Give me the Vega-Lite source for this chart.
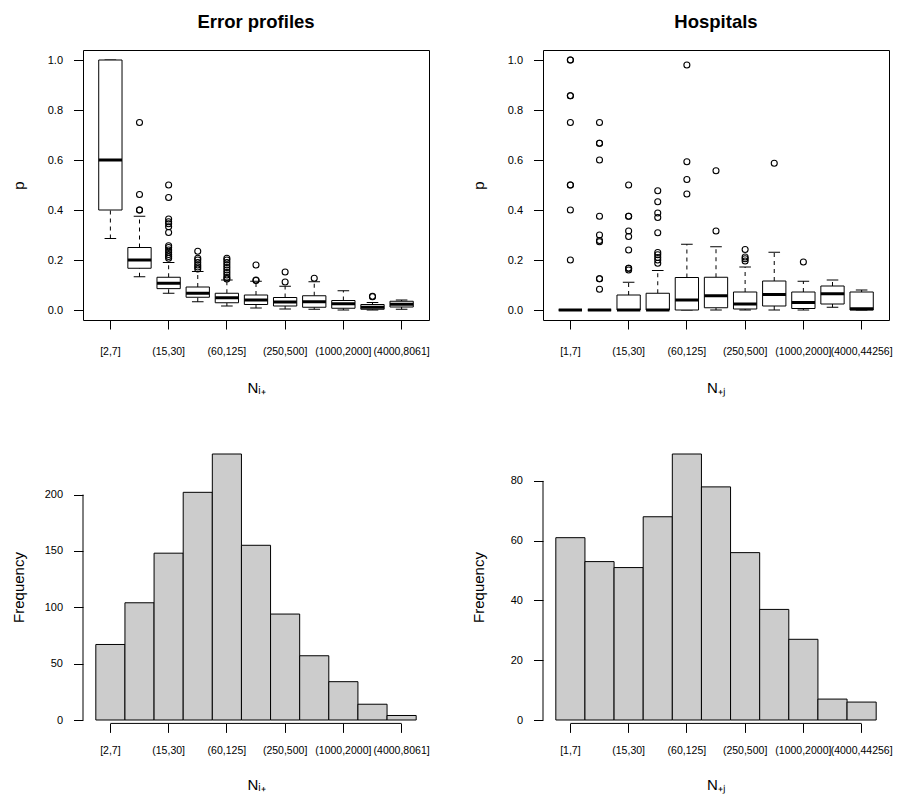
{
  "$schema": "https://vega.github.io/schema/vega-lite/v6.json",
  "background": "white",
  "padding": {"left": 10, "top": 12, "right": 5, "bottom": 3},
  "columns": 2,
  "bounds": "flush",
  "spacing": {"row": 134, "column": 114},
  "config": {
    "font": "Liberation Sans",
    "view": {"stroke": null},
    "axis": {
      "grid": false,
      "labelFont": "Liberation Sans",
      "labelFontSize": 11,
      "labelColor": "#000000",
      "tickColor": "#000000",
      "tickWidth": 1,
      "domainColor": "#000000",
      "titleFont": "Liberation Sans",
      "titleFontSize": 15,
      "titleFontWeight": "normal",
      "titleColor": "#000000",
      "labelOverlap": false,
      "labelFlush": false,
      "labelBound": false
    },
    "axisX": {"labelFontSize": 10.5},
    "title": {"font": "Liberation Sans", "fontSize": 18.5, "fontWeight": "bold", "color": "#000000"}
  },
  "datasets": {
    "epBox": [
      {"cat": "[2,7]", "lo": 0.286, "q1": 0.4, "med": 0.6, "q3": 1.0, "hi": 1.0},
      {"cat": "(7,15]", "lo": 0.133, "q1": 0.167, "med": 0.2, "q3": 0.25, "hi": 0.375},
      {"cat": "(15,30]", "lo": 0.067, "q1": 0.0855, "med": 0.107, "q3": 0.131, "hi": 0.19},
      {"cat": "(30,60]", "lo": 0.033, "q1": 0.051, "med": 0.067, "q3": 0.092, "hi": 0.154},
      {"cat": "(60,125]", "lo": 0.016, "q1": 0.029, "med": 0.049, "q3": 0.067, "hi": 0.12},
      {"cat": "(125,250]", "lo": 0.008, "q1": 0.022, "med": 0.04, "q3": 0.06, "hi": 0.115},
      {"cat": "(250,500]", "lo": 0.004, "q1": 0.016, "med": 0.032, "q3": 0.05, "hi": 0.095},
      {"cat": "(500,1000]", "lo": 0.003, "q1": 0.011, "med": 0.033, "q3": 0.057, "hi": 0.113},
      {"cat": "(1000,2000]", "lo": 0.0, "q1": 0.007, "med": 0.025, "q3": 0.038, "hi": 0.077},
      {"cat": "(2000,4000]", "lo": 0.0, "q1": 0.003, "med": 0.011, "q3": 0.022, "hi": 0.03},
      {"cat": "(4000,8061]", "lo": 0.003, "q1": 0.012, "med": 0.023, "q3": 0.035, "hi": 0.04}
    ],
    "epOut": [
      {"cat": "(7,15]", "p": 0.75}, {"cat": "(7,15]", "p": 0.462}, {"cat": "(7,15]", "p": 0.4}, {"cat": "(7,15]", "p": 0.4},
      {"cat": "(15,30]", "p": 0.5}, {"cat": "(15,30]", "p": 0.45}, {"cat": "(15,30]", "p": 0.364}, {"cat": "(15,30]", "p": 0.353},
      {"cat": "(15,30]", "p": 0.345}, {"cat": "(15,30]", "p": 0.333}, {"cat": "(15,30]", "p": 0.31}, {"cat": "(15,30]", "p": 0.257},
      {"cat": "(15,30]", "p": 0.25}, {"cat": "(15,30]", "p": 0.24}, {"cat": "(15,30]", "p": 0.231}, {"cat": "(15,30]", "p": 0.222},
      {"cat": "(15,30]", "p": 0.214}, {"cat": "(15,30]", "p": 0.207},
      {"cat": "(30,60]", "p": 0.235}, {"cat": "(30,60]", "p": 0.207}, {"cat": "(30,60]", "p": 0.2}, {"cat": "(30,60]", "p": 0.19},
      {"cat": "(30,60]", "p": 0.18}, {"cat": "(30,60]", "p": 0.172}, {"cat": "(30,60]", "p": 0.164},
      {"cat": "(60,125]", "p": 0.207}, {"cat": "(60,125]", "p": 0.2}, {"cat": "(60,125]", "p": 0.19}, {"cat": "(60,125]", "p": 0.18},
      {"cat": "(60,125]", "p": 0.17}, {"cat": "(60,125]", "p": 0.16}, {"cat": "(60,125]", "p": 0.15}, {"cat": "(60,125]", "p": 0.14},
      {"cat": "(60,125]", "p": 0.13}, {"cat": "(60,125]", "p": 0.124},
      {"cat": "(125,250]", "p": 0.18}, {"cat": "(125,250]", "p": 0.12}, {"cat": "(125,250]", "p": 0.118},
      {"cat": "(250,500]", "p": 0.152}, {"cat": "(250,500]", "p": 0.112},
      {"cat": "(500,1000]", "p": 0.127},
      {"cat": "(2000,4000]", "p": 0.055}, {"cat": "(2000,4000]", "p": 0.053}
    ],
    "hoBox": [
      {"cat": "[1,7]", "lo": 0, "q1": 0, "med": 0, "q3": 0, "hi": 0},
      {"cat": "(7,15]", "lo": 0, "q1": 0, "med": 0, "q3": 0, "hi": 0},
      {"cat": "(15,30]", "lo": 0, "q1": 0, "med": 0, "q3": 0.06, "hi": 0.111},
      {"cat": "(30,60]", "lo": 0, "q1": 0, "med": 0, "q3": 0.067, "hi": 0.158},
      {"cat": "(60,125]", "lo": 0, "q1": 0, "med": 0.04, "q3": 0.13, "hi": 0.263},
      {"cat": "(125,250]", "lo": 0, "q1": 0.009, "med": 0.057, "q3": 0.131, "hi": 0.253},
      {"cat": "(250,500]", "lo": 0, "q1": 0.004, "med": 0.024, "q3": 0.072, "hi": 0.172},
      {"cat": "(500,1000]", "lo": 0, "q1": 0.016, "med": 0.062, "q3": 0.116, "hi": 0.231},
      {"cat": "(1000,2000]", "lo": 0, "q1": 0.006, "med": 0.03, "q3": 0.072, "hi": 0.115},
      {"cat": "(2000,4000]", "lo": 0.011, "q1": 0.024, "med": 0.065, "q3": 0.096, "hi": 0.12},
      {"cat": "(4000,44256]", "lo": 0, "q1": 0, "med": 0.005, "q3": 0.072, "hi": 0.08}
    ],
    "hoOut": [
      {"cat": "[1,7]", "p": 1.0}, {"cat": "[1,7]", "p": 1.0}, {"cat": "[1,7]", "p": 0.857}, {"cat": "[1,7]", "p": 0.857},
      {"cat": "[1,7]", "p": 0.75}, {"cat": "[1,7]", "p": 0.5}, {"cat": "[1,7]", "p": 0.5}, {"cat": "[1,7]", "p": 0.4}, {"cat": "[1,7]", "p": 0.2},
      {"cat": "(7,15]", "p": 0.75}, {"cat": "(7,15]", "p": 0.667}, {"cat": "(7,15]", "p": 0.667}, {"cat": "(7,15]", "p": 0.6},
      {"cat": "(7,15]", "p": 0.375}, {"cat": "(7,15]", "p": 0.3}, {"cat": "(7,15]", "p": 0.278}, {"cat": "(7,15]", "p": 0.273},
      {"cat": "(7,15]", "p": 0.125}, {"cat": "(7,15]", "p": 0.125}, {"cat": "(7,15]", "p": 0.083},
      {"cat": "(15,30]", "p": 0.5}, {"cat": "(15,30]", "p": 0.375}, {"cat": "(15,30]", "p": 0.375}, {"cat": "(15,30]", "p": 0.316},
      {"cat": "(15,30]", "p": 0.294}, {"cat": "(15,30]", "p": 0.24}, {"cat": "(15,30]", "p": 0.167}, {"cat": "(15,30]", "p": 0.167},
      {"cat": "(15,30]", "p": 0.16},
      {"cat": "(30,60]", "p": 0.477}, {"cat": "(30,60]", "p": 0.433}, {"cat": "(30,60]", "p": 0.388}, {"cat": "(30,60]", "p": 0.37},
      {"cat": "(30,60]", "p": 0.309}, {"cat": "(30,60]", "p": 0.23}, {"cat": "(30,60]", "p": 0.221}, {"cat": "(30,60]", "p": 0.21},
      {"cat": "(30,60]", "p": 0.2}, {"cat": "(30,60]", "p": 0.187},
      {"cat": "(60,125]", "p": 0.98}, {"cat": "(60,125]", "p": 0.593}, {"cat": "(60,125]", "p": 0.522}, {"cat": "(60,125]", "p": 0.464},
      {"cat": "(125,250]", "p": 0.557}, {"cat": "(125,250]", "p": 0.316},
      {"cat": "(250,500]", "p": 0.242}, {"cat": "(250,500]", "p": 0.212}, {"cat": "(250,500]", "p": 0.205}, {"cat": "(250,500]", "p": 0.196},
      {"cat": "(500,1000]", "p": 0.587},
      {"cat": "(1000,2000]", "p": 0.192}
    ],
    "epHist": [
      {"cat": "[2,7]", "freq": 67}, {"cat": "(7,15]", "freq": 104}, {"cat": "(15,30]", "freq": 148},
      {"cat": "(30,60]", "freq": 202}, {"cat": "(60,125]", "freq": 236}, {"cat": "(125,250]", "freq": 155},
      {"cat": "(250,500]", "freq": 94}, {"cat": "(500,1000]", "freq": 57}, {"cat": "(1000,2000]", "freq": 34},
      {"cat": "(2000,4000]", "freq": 14}, {"cat": "(4000,8061]", "freq": 4}
    ],
    "hoHist": [
      {"cat": "[1,7]", "freq": 61}, {"cat": "(7,15]", "freq": 53}, {"cat": "(15,30]", "freq": 51},
      {"cat": "(30,60]", "freq": 68}, {"cat": "(60,125]", "freq": 89}, {"cat": "(125,250]", "freq": 78},
      {"cat": "(250,500]", "freq": 56}, {"cat": "(500,1000]", "freq": 37}, {"cat": "(1000,2000]", "freq": 27},
      {"cat": "(2000,4000]", "freq": 7}, {"cat": "(4000,44256]", "freq": 6}
    ],
    "one": [{"k": 1}]
  },
  "concat": [
    {
      "width": 346, "height": 270,
      "title": {"text": "Error profiles", "frame": "group", "anchor": "middle", "baseline": "alphabetic", "offset": 3.2},
      "view": {"stroke": "#000000", "strokeWidth": 1},
      "encoding": {
        "x": {"field": "cat", "type": "nominal", "title": "Nᵢ₊",
          "scale": {"domain": ["[2,7]", "(7,15]", "(15,30]", "(30,60]", "(60,125]", "(125,250]", "(250,500]", "(500,1000]", "(1000,2000]", "(2000,4000]", "(4000,8061]"], "paddingInner": 0, "paddingOuter": 0.44},
          "axis": {"values": ["[2,7]", "(15,30]", "(60,125]", "(250,500]", "(1000,2000]", "(4000,8061]"], "domain": false, "tickSize": 9, "labelPadding": 17, "labelAngle": 0, "titleY": 72, "titleBaseline": "alphabetic"}}
      },
      "layer": [
        {"data": {"name": "epBox"}, "mark": {"type": "rule", "strokeDash": [4, 4], "color": "#000000"},
          "encoding": {"y": {"field": "q3", "type": "quantitative", "title": "p",
            "scale": {"domain": [-0.04, 1.04], "nice": false, "zero": false},
            "axis": {"values": [0, 0.2, 0.4, 0.6, 0.8, 1.0], "format": ".1f", "domain": false, "tickSize": 9.5, "labelPadding": 11, "titleX": -60, "titleBaseline": "alphabetic"}},
            "y2": {"field": "hi"}}},
        {"data": {"name": "epBox"}, "mark": {"type": "rule", "strokeDash": [4, 4], "color": "#000000"},
          "encoding": {"y": {"field": "lo", "type": "quantitative", "title": "p"}, "y2": {"field": "q1"}}},
        {"data": {"name": "epBox"}, "mark": {"type": "tick", "orient": "horizontal", "size": 11.6, "thickness": 1, "color": "#000000", "opacity": 1},
          "encoding": {"y": {"field": "hi", "type": "quantitative", "title": "p"}}},
        {"data": {"name": "epBox"}, "mark": {"type": "tick", "orient": "horizontal", "size": 11.6, "thickness": 1, "color": "#000000", "opacity": 1},
          "encoding": {"y": {"field": "lo", "type": "quantitative", "title": "p"}}},
        {"data": {"name": "epBox"}, "mark": {"type": "bar", "width": {"band": 0.8}, "fill": "#ffffff", "stroke": "#000000", "strokeWidth": 1, "opacity": 1},
          "encoding": {"y": {"field": "q1", "type": "quantitative", "title": "p"}, "y2": {"field": "q3"}}},
        {"data": {"name": "epBox"}, "mark": {"type": "tick", "orient": "horizontal", "size": 23.3, "thickness": 3, "color": "#000000", "opacity": 1},
          "encoding": {"y": {"field": "med", "type": "quantitative", "title": "p"}}},
        {"data": {"name": "epOut"}, "mark": {"type": "point", "shape": "circle", "size": 36, "filled": false, "stroke": "#000000", "strokeWidth": 1.1, "opacity": 1},
          "encoding": {"y": {"field": "p", "type": "quantitative", "title": "p"}}}
      ]
    },
    {
      "width": 346, "height": 270,
      "title": {"text": "Hospitals", "frame": "group", "anchor": "middle", "baseline": "alphabetic", "offset": 3.2},
      "view": {"stroke": "#000000", "strokeWidth": 1},
      "encoding": {
        "x": {"field": "cat", "type": "nominal", "title": "N₊ⱼ",
          "scale": {"domain": ["[1,7]", "(7,15]", "(15,30]", "(30,60]", "(60,125]", "(125,250]", "(250,500]", "(500,1000]", "(1000,2000]", "(2000,4000]", "(4000,44256]"], "paddingInner": 0, "paddingOuter": 0.44},
          "axis": {"values": ["[1,7]", "(15,30]", "(60,125]", "(250,500]", "(1000,2000]", "(4000,44256]"], "domain": false, "tickSize": 9, "labelPadding": 17, "labelAngle": 0, "titleY": 72, "titleBaseline": "alphabetic"}}
      },
      "layer": [
        {"data": {"name": "hoBox"}, "mark": {"type": "rule", "strokeDash": [4, 4], "color": "#000000"},
          "encoding": {"y": {"field": "q3", "type": "quantitative", "title": "p",
            "scale": {"domain": [-0.04, 1.04], "nice": false, "zero": false},
            "axis": {"values": [0, 0.2, 0.4, 0.6, 0.8, 1.0], "format": ".1f", "domain": false, "tickSize": 9.5, "labelPadding": 11, "titleX": -60, "titleBaseline": "alphabetic"}},
            "y2": {"field": "hi"}}},
        {"data": {"name": "hoBox"}, "mark": {"type": "rule", "strokeDash": [4, 4], "color": "#000000"},
          "encoding": {"y": {"field": "lo", "type": "quantitative", "title": "p"}, "y2": {"field": "q1"}}},
        {"data": {"name": "hoBox"}, "mark": {"type": "tick", "orient": "horizontal", "size": 11.6, "thickness": 1, "color": "#000000", "opacity": 1},
          "encoding": {"y": {"field": "hi", "type": "quantitative", "title": "p"}}},
        {"data": {"name": "hoBox"}, "mark": {"type": "tick", "orient": "horizontal", "size": 11.6, "thickness": 1, "color": "#000000", "opacity": 1},
          "encoding": {"y": {"field": "lo", "type": "quantitative", "title": "p"}}},
        {"data": {"name": "hoBox"}, "mark": {"type": "bar", "width": {"band": 0.8}, "fill": "#ffffff", "stroke": "#000000", "strokeWidth": 1, "opacity": 1},
          "encoding": {"y": {"field": "q1", "type": "quantitative", "title": "p"}, "y2": {"field": "q3"}}},
        {"data": {"name": "hoBox"}, "mark": {"type": "tick", "orient": "horizontal", "size": 23.3, "thickness": 3, "color": "#000000", "opacity": 1},
          "encoding": {"y": {"field": "med", "type": "quantitative", "title": "p"}}},
        {"data": {"name": "hoOut"}, "mark": {"type": "point", "shape": "circle", "size": 36, "filled": false, "stroke": "#000000", "strokeWidth": 1.1, "opacity": 1},
          "encoding": {"y": {"field": "p", "type": "quantitative", "title": "p"}}}
      ]
    },
    {
      "width": 346, "height": 266,
      "view": {"stroke": null},
      "encoding": {
        "x": {"field": "cat", "type": "nominal", "title": "Nᵢ₊",
          "scale": {"domain": ["[2,7]", "(7,15]", "(15,30]", "(30,60]", "(60,125]", "(125,250]", "(250,500]", "(500,1000]", "(1000,2000]", "(2000,4000]", "(4000,8061]"], "paddingInner": 0, "paddingOuter": 0.44},
          "axis": {"values": ["[2,7]", "(15,30]", "(60,125]", "(250,500]", "(1000,2000]", "(4000,8061]"], "domain": false, "offset": 3.4, "tickSize": 9, "labelPadding": 13, "labelAngle": 0, "titleY": 66, "titleBaseline": "alphabetic"}}
      },
      "layer": [
        {"data": {"name": "epHist"}, "mark": {"type": "bar", "fill": "#cccccc", "stroke": "#000000", "strokeWidth": 1, "opacity": 1},
          "encoding": {"y": {"field": "freq", "type": "quantitative", "title": "Frequency",
            "scale": {"domain": [0, 236], "nice": false},
            "axis": {"values": [0, 50, 100, 150, 200], "domain": false, "tickSize": 9.5, "labelPadding": 11, "titleX": -60, "titleBaseline": "alphabetic"}}}},
        {"data": {"name": "one"}, "mark": {"type": "rule", "color": "#000000", "yOffset": 3.4},
          "encoding": {"x": {"datum": "[2,7]"}, "x2": {"datum": "(4000,8061]"}, "y": {"datum": 0, "type": "quantitative"}}},
        {"data": {"name": "one"}, "mark": {"type": "rule", "color": "#000000"},
          "encoding": {"x": {"value": 0}, "y": {"datum": 0, "type": "quantitative"}, "y2": {"datum": 200}}}
      ]
    },
    {
      "width": 346, "height": 266,
      "view": {"stroke": null},
      "encoding": {
        "x": {"field": "cat", "type": "nominal", "title": "N₊ⱼ",
          "scale": {"domain": ["[1,7]", "(7,15]", "(15,30]", "(30,60]", "(60,125]", "(125,250]", "(250,500]", "(500,1000]", "(1000,2000]", "(2000,4000]", "(4000,44256]"], "paddingInner": 0, "paddingOuter": 0.44},
          "axis": {"values": ["[1,7]", "(15,30]", "(60,125]", "(250,500]", "(1000,2000]", "(4000,44256]"], "domain": false, "offset": 3.4, "tickSize": 9, "labelPadding": 13, "labelAngle": 0, "titleY": 66, "titleBaseline": "alphabetic"}}
      },
      "layer": [
        {"data": {"name": "hoHist"}, "mark": {"type": "bar", "fill": "#cccccc", "stroke": "#000000", "strokeWidth": 1, "opacity": 1},
          "encoding": {"y": {"field": "freq", "type": "quantitative", "title": "Frequency",
            "scale": {"domain": [0, 89], "nice": false},
            "axis": {"values": [0, 20, 40, 60, 80], "domain": false, "tickSize": 9.5, "labelPadding": 11, "titleX": -60, "titleBaseline": "alphabetic"}}}},
        {"data": {"name": "one"}, "mark": {"type": "rule", "color": "#000000", "yOffset": 3.4},
          "encoding": {"x": {"datum": "[1,7]"}, "x2": {"datum": "(4000,44256]"}, "y": {"datum": 0, "type": "quantitative"}}},
        {"data": {"name": "one"}, "mark": {"type": "rule", "color": "#000000"},
          "encoding": {"x": {"value": 0}, "y": {"datum": 0, "type": "quantitative"}, "y2": {"datum": 80}}}
      ]
    }
  ]
}
